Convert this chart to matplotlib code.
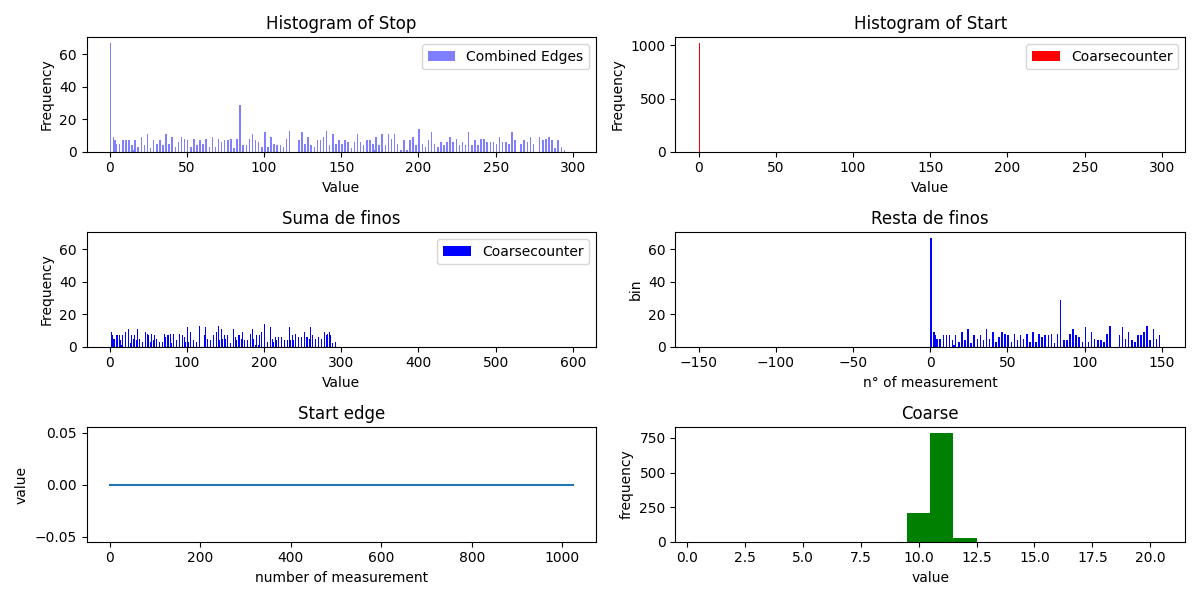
import numpy as np
import matplotlib
matplotlib.use('Agg')
import matplotlib.pyplot as plt

# ===== 数据 =====
# Stop 直方图: bin 左边界 -> 计数
stop_bins = [0, 2, 3, 4, 6, 8, 10, 12, 14, 15, 16, 18, 20, 22, 24, 26, 28, 30, 32, 34,
             36, 38, 40, 42, 44, 46, 48, 50, 52, 54, 56, 58, 60, 62, 64, 66, 68, 70, 72, 74,
             76, 78, 80, 82, 84, 86, 88, 90, 92, 94, 96, 98, 100, 102, 104, 106, 108, 110, 112, 114,
             116, 122, 124, 126, 128, 130, 132, 134, 136, 138, 140, 142, 144, 146, 148, 150, 152, 154, 156, 158,
             160, 162, 164, 166, 168, 170, 171, 172, 174, 176, 178, 180, 182, 184, 186, 188, 190, 192, 194, 196,
             198, 200, 202, 204, 206, 208, 210, 212, 214, 216, 218, 220, 222, 224, 226, 228, 230, 232, 234, 236,
             238, 240, 242, 244, 246, 248, 250, 252, 254, 256, 258, 260, 262, 266, 268, 270, 272, 274, 278, 280,
             282, 284, 286, 288, 290, 292, 294]
stop_counts = [67, 9, 7, 5, 5, 7, 7, 7, 4, 1, 7, 3, 9, 4, 11, 2, 7, 5, 7, 4,
               11, 5, 9, 3, 6, 9, 8, 7, 3, 8, 4, 7, 5, 8, 3, 9, 3, 8, 6, 7,
               7, 8, 2, 8, 29, 4, 4, 8, 11, 7, 6, 3, 12, 3, 9, 5, 4, 4, 3, 8,
               13, 7, 12, 5, 9, 4, 3, 7, 7, 9, 13, 4, 11, 5, 7, 5, 7, 6, 2, 6,
               11, 6, 4, 7, 7, 5, 1, 9, 4, 11, 4, 11, 8, 11, 5, 1, 7, 1, 7, 9,
               4, 14, 5, 3, 7, 12, 5, 3, 6, 4, 6, 9, 6, 8, 4, 6, 4, 12, 4, 7,
               4, 8, 8, 6, 6, 6, 5, 9, 6, 6, 5, 12, 7, 5, 7, 6, 9, 5, 9, 7,
               8, 9, 7, 2, 7, 3, 1]

# Start: 全部测量值为 0
start_bins = [0]
start_counts = [1024]

# Suma de finos
suma_bins = [2, 3, 4, 6, 8, 10, 12, 14, 15, 16, 18, 20, 22, 24, 26, 28, 30, 32, 34,
             36, 38, 40, 42, 44, 46, 48, 50, 52, 54, 56, 58, 60, 62, 64, 66, 68, 70, 72, 74,
             76, 78, 80, 82, 86, 88, 90, 92, 94, 96, 98, 100, 102, 104, 106, 108, 110, 112, 114,
             116, 122, 124, 126, 128, 130, 132, 134, 136, 138, 140, 142, 144, 146, 148, 150, 152, 154, 156, 158,
             160, 162, 164, 166, 168, 170, 171, 172, 174, 176, 178, 180, 182, 184, 186, 188, 190, 192, 194, 196,
             198, 200, 202, 204, 206, 208, 210, 212, 214, 216, 218, 220, 222, 224, 226, 228, 230, 232, 234, 236,
             238, 240, 242, 244, 246, 248, 250, 252, 254, 256, 258, 260, 262, 266, 268, 270, 272, 274, 278, 280,
             282, 284, 286, 288, 290, 292, 294]
suma_counts = [9, 7, 5, 5, 7, 7, 7, 4, 1, 7, 3, 9, 4, 11, 2, 7, 5, 7, 4,
               11, 5, 9, 3, 6, 9, 8, 7, 3, 8, 4, 7, 5, 8, 3, 9, 3, 8, 6, 7,
               7, 8, 2, 8, 4, 4, 8, 11, 7, 6, 3, 12, 3, 9, 5, 4, 4, 3, 8,
               13, 7, 12, 5, 9, 4, 3, 7, 7, 9, 13, 4, 11, 5, 7, 5, 7, 6, 2, 6,
               11, 6, 4, 7, 7, 5, 1, 9, 4, 11, 4, 11, 8, 11, 5, 1, 7, 1, 7, 9,
               4, 14, 5, 3, 7, 12, 5, 3, 6, 4, 6, 9, 6, 8, 4, 6, 4, 12, 4, 7,
               4, 8, 8, 6, 6, 6, 5, 9, 6, 6, 5, 12, 7, 5, 7, 6, 9, 5, 9, 7,
               8, 9, 7, 2, 7, 3, 1]

# Resta de finos
resta_bins = [0, 2, 3, 4, 6, 8, 10, 12, 14, 15, 16, 18, 20, 22, 24, 26, 28, 30, 32, 34,
              36, 38, 40, 42, 44, 46, 48, 50, 52, 54, 56, 58, 60, 62, 64, 66, 68, 70, 72, 74,
              76, 78, 80, 82, 84, 86, 88, 90, 92, 94, 96, 98, 100, 102, 104, 106, 108, 110, 112, 114,
              116, 122, 124, 126, 128, 130, 132, 134, 136, 138, 140, 142, 144, 146, 148]
resta_counts = [67, 9, 7, 5, 5, 7, 7, 7, 4, 1, 7, 3, 9, 4, 11, 2, 7, 5, 7, 4,
                11, 5, 9, 3, 6, 9, 8, 7, 3, 8, 4, 7, 5, 8, 3, 9, 3, 8, 6, 7,
                7, 8, 2, 8, 29, 4, 4, 8, 11, 7, 6, 3, 12, 3, 9, 5, 4, 4, 3, 8,
                13, 7, 12, 5, 9, 4, 3, 7, 7, 9, 13, 4, 11, 5, 7]

# Start edge: 1024 次测量, 全部为 0
n_measurements = 1024
start_edge = np.zeros(n_measurements)

# Coarse 直方图
coarse_values = [10, 11, 12]
coarse_counts = [208, 787, 29]


# ===== 绘图 =====
fig, axes = plt.subplots(3, 2, figsize=(12, 6), dpi=100)

ax = axes[0, 0]
ax.hist(np.array(stop_bins) + 0.5, bins=np.arange(0, 301), weights=stop_counts,
        color='blue', alpha=0.5, label='Combined Edges')
ax.set_title('Histogram of Stop')
ax.set_xlabel('Value')
ax.set_ylabel('Frequency')
ax.legend()

ax = axes[0, 1]
ax.hist(np.array(start_bins) + 0.5, bins=np.arange(0, 301), weights=start_counts,
        color='red', label='Coarsecounter')
ax.set_title('Histogram of Start')
ax.set_xlabel('Value')
ax.set_ylabel('Frequency')
ax.legend()

ax = axes[1, 0]
ax.hist(np.array(suma_bins) + 0.5, bins=np.arange(0, 601), weights=suma_counts,
        color='blue', label='Coarsecounter')
ax.set_title('Suma de finos')
ax.set_xlabel('Value')
ax.set_ylabel('Frequency')
ax.set_ylim(0, 70.35)
ax.legend()

ax = axes[1, 1]
ax.hist(np.array(resta_bins) + 0.5, bins=np.arange(-150, 151), weights=resta_counts,
        color='blue')
ax.set_title('Resta de finos')
ax.set_xlabel('n° of measurement')
ax.set_ylabel('bin')

ax = axes[2, 0]
ax.plot(np.arange(n_measurements), start_edge)
ax.set_title('Start edge')
ax.set_xlabel('number of measurement')
ax.set_ylabel('value')

ax = axes[2, 1]
ax.hist(coarse_values, bins=np.arange(0.5, 21.5, 1), weights=coarse_counts, color='green')
ax.set_title('Coarse')
ax.set_xlabel('value')
ax.set_ylabel('frequency')

plt.tight_layout()
fig.savefig('out.png', dpi=100)
